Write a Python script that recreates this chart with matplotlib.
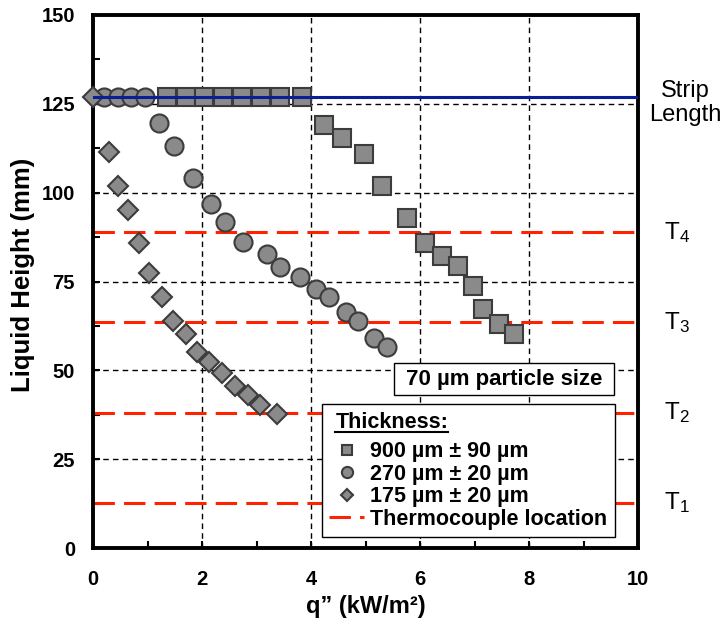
import numpy as np
import matplotlib
matplotlib.use("Agg")
import matplotlib.pyplot as plt
from matplotlib.lines import Line2D
from matplotlib.patches import Rectangle
from matplotlib.ticker import MultipleLocator

plt.rcParams['font.family'] = ['Liberation Sans', 'DejaVu Sans']
plt.rcParams['mathtext.fontset'] = 'custom'
plt.rcParams['mathtext.rm'] = 'Liberation Sans'
plt.rcParams['mathtext.it'] = 'Liberation Sans:italic'
plt.rcParams['mathtext.bf'] = 'Liberation Sans:bold'

# =========================================
# Data
# =========================================

# 900 um strip
q_900 = [1.36, 1.71, 2.04, 2.39, 2.73, 3.08, 3.43, 3.83,
         4.24, 4.57, 4.98, 5.30, 5.77, 6.10, 6.41, 6.70, 6.97, 7.15, 7.45, 7.73]
h_900 = [127, 127, 127, 127, 127, 127, 127, 127,
         119.1, 115.5, 110.8, 102.0, 92.8, 85.9, 82.1, 79.5, 73.8, 67.3, 63.0, 60.1]

# 270 um strip
q_270 = [0.20, 0.45, 0.70, 0.95,
         1.21, 1.49, 1.84, 2.17, 2.42, 2.76, 3.19, 3.44, 3.79, 4.09, 4.33,
         4.64, 4.86, 5.15, 5.40]
h_270 = [127, 127, 127, 127,
         119.7, 113.2, 104.0, 96.7, 91.7, 86.2, 82.8, 79.2, 76.4, 73.0, 70.5,
         66.5, 64.0, 59.0, 56.7]

# 175 um strip
q_175 = [0.0, 0.29, 0.46, 0.64, 0.84, 1.03, 1.26, 1.47, 1.71, 1.90,
         2.13, 2.36, 2.61, 2.84, 3.06, 3.37]
h_175 = [127, 111.4, 101.9, 95.1, 85.9, 77.3, 70.7, 64.0, 60.1, 55.3,
         52.4, 49.2, 45.6, 43.1, 40.2, 37.7]

# thermocouple heights and strip length (mm)
tc_heights = [12.7, 38.1, 63.5, 88.9]
tc_labels = ["1", "2", "3", "4"]
strip_length = 127.0

series_labels = ["900 µm ± 90 µm", "270 µm ± 20 µm", "175 µm ± 20 µm"]

# =========================================
# Plot
# =========================================

fig = plt.figure(figsize=(7.23, 6.24), dpi=100)
ax = fig.add_axes([93 / 723, 1 - 548 / 624, (638 - 93) / 723, (548 - 15) / 624])

face = '#8a8a8a'
edge = '#3c3c3c'
red = '#ff2200'
red_dash = (0, (7, 3))

ax.grid(True, which='major', color='black', linestyle=(0, (4, 3)), linewidth=1.0)
ax.set_axisbelow(True)

for h in tc_heights:
    ax.axhline(h, color=red, linestyle=red_dash, linewidth=2.2, zorder=2)

p1, = ax.plot(q_900, h_900, 's', ms=12.5, mfc=face, mec=edge, mew=1.5, zorder=3)
p2, = ax.plot(q_270, h_270, 'o', ms=13, mfc=face, mec=edge, mew=1.5, zorder=4)
p3, = ax.plot(q_175, h_175, 'D', ms=10, mfc=face, mec=edge, mew=1.5, zorder=5,
              clip_on=False)

ax.axhline(strip_length, color='#0a1f96', linewidth=2.2, zorder=6)

ax.set_xlim(0, 10)
ax.set_ylim(0, 150)
ax.xaxis.set_major_locator(MultipleLocator(2))
ax.xaxis.set_minor_locator(MultipleLocator(1))
ax.yaxis.set_major_locator(MultipleLocator(25))
ax.yaxis.set_minor_locator(MultipleLocator(12.5))
ax.tick_params(which='both', direction='in', width=1.5, length=5, labelsize=14.5)
ax.tick_params(axis='x', pad=16)
ax.tick_params(axis='y', pad=13)
for lab in ax.get_xticklabels() + ax.get_yticklabels():
    lab.set_fontweight('bold')

for s in ax.spines.values():
    s.set_linewidth(2.8)

ax.set_xlabel("q” (kW/m²)", fontsize=17, fontweight='bold', labelpad=4)
ax.set_ylabel("Liquid Height (mm)", fontsize=18.5, fontweight='bold')
ax.yaxis.set_label_coords(-0.106, 0.512)

# right-hand labels
for h, t in zip(tc_heights, tc_labels):
    ax.text(10.48, h, r"$\mathrm{T}_{%s}$" % t, fontsize=17.5, ha='left', va='center',
            clip_on=False)
ax.text(10.86, 125.2, "Strip\nLength", fontsize=17, ha='center',
        va='center', linespacing=1.15, clip_on=False)

# particle size note
ax.add_patch(Rectangle((0.5523, 0.287), 0.4037, 0.060, transform=ax.transAxes,
                       fc='white', ec='black', lw=1.0, zorder=10))
ax.text(0.754, 0.317, "70 µm particle size", transform=ax.transAxes,
        fontsize=16, fontweight='bold', ha='center', va='center', zorder=11)

tc_handle = Line2D([], [], color=red, linestyle=red_dash, linewidth=2.2)
leg = ax.legend([p1, p2, p3, tc_handle], series_labels + ["Thermocouple location"],
                loc='lower left', bbox_to_anchor=(0.42, 0.02), fancybox=False,
                framealpha=1, edgecolor='black', markerscale=0.62,
                prop=dict(size=15.5, weight='bold'), title="Thickness:",
                title_fontproperties=dict(size=15.5, weight='bold'),
                alignment='left', handlelength=1.6, handletextpad=0.3,
                labelspacing=0.07, borderpad=0.35, borderaxespad=0)
leg._legend_box.sep = 6
leg.get_frame().set_linewidth(1.0)
leg.set_zorder(10)
leg.get_title().set_position((6, 0))

# underline the legend title
fig.canvas.draw()
bb = leg.get_title().get_window_extent()
inv = fig.transFigure.inverted()
(x0, y0), (x1, _) = inv.transform([(bb.x0, bb.y0 + 1), (bb.x1, bb.y0)])
fig.add_artist(Line2D([x0, x1], [y0, y0], transform=fig.transFigure,
                      color='black', linewidth=1.5, zorder=20))

plt.savefig("out.png", dpi=100)
